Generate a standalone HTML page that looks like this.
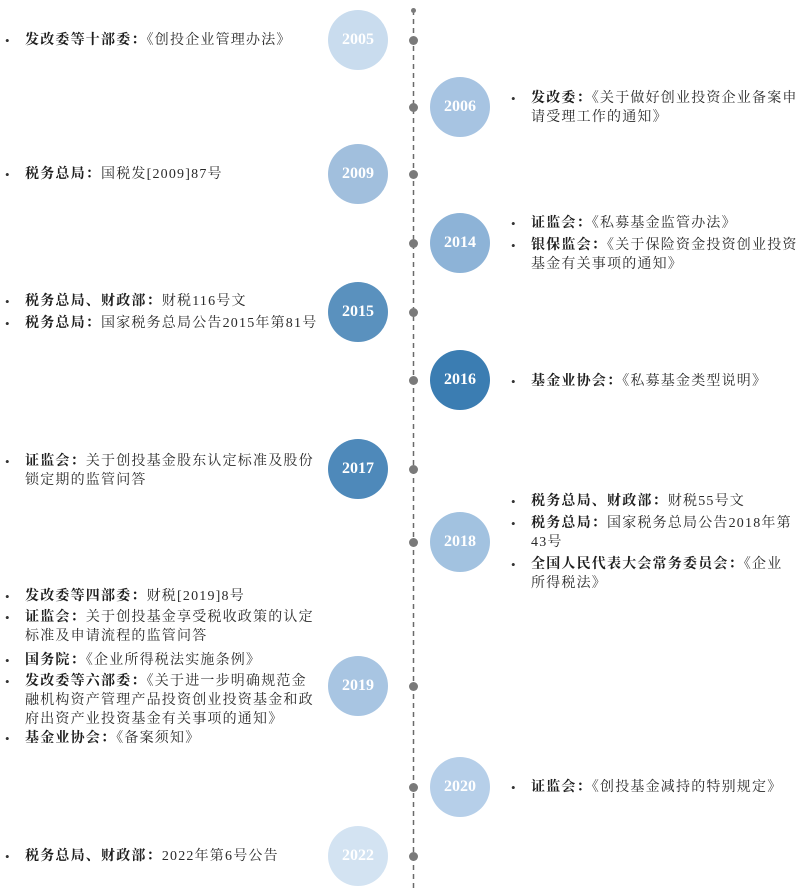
<!DOCTYPE html>
<html><head><meta charset="utf-8"><style>
body{margin:0;width:800px;height:890px;background:#fff;position:relative;overflow:hidden;font-family:"Liberation Serif","Noto Serif CJK SC",serif;color:#2a2a2a;}
.t{position:absolute;font-size:14px;line-height:19px;white-space:nowrap;letter-spacing:1.2px;}
.t b{font-weight:bold;color:#1e1e1e}
.bl{position:absolute;font-size:13px;line-height:19px;color:#333}
.c{position:absolute;width:60px;height:60px;border-radius:50%;color:#fff;font-weight:bold;font-size:16px;line-height:60px;text-align:center;}
.d{position:absolute;left:409px;width:9px;height:9px;border-radius:50%;background:#7a7a7a;}
</style></head><body>
<svg style="position:absolute;left:0;top:0" width="800" height="890"><line x1="413.5" y1="10" x2="413.5" y2="890" stroke="#6a6a6a" stroke-width="1.5" stroke-dasharray="5,4"/></svg>

<div class="d" style="top:8px;left:411px;width:5px;height:5px"></div>
<div class="d" style="top:36px"></div>
<div class="d" style="top:103px"></div>
<div class="d" style="top:170px"></div>
<div class="d" style="top:239px"></div>
<div class="d" style="top:308px"></div>
<div class="d" style="top:376px"></div>
<div class="d" style="top:465px"></div>
<div class="d" style="top:538px"></div>
<div class="d" style="top:682px"></div>
<div class="d" style="top:783px"></div>
<div class="d" style="top:852px"></div>

<div class="c" style="left:328px;top:10px;background:#c9dcee">2005</div>
<div class="c" style="left:430px;top:77px;background:#a7c4e2">2006</div>
<div class="c" style="left:328px;top:144px;background:#a1bfdd">2009</div>
<div class="c" style="left:430px;top:213px;background:#8db3d7">2014</div>
<div class="c" style="left:328px;top:282px;background:#5a91be">2015</div>
<div class="c" style="left:430px;top:350px;background:#3b7db2">2016</div>
<div class="c" style="left:328px;top:439px;background:#4e89ba">2017</div>
<div class="c" style="left:430px;top:512px;background:#a2c2e0">2018</div>
<div class="c" style="left:328px;top:656px;background:#a8c5e2">2019</div>
<div class="c" style="left:430px;top:757px;background:#b6cfe9">2020</div>
<div class="c" style="left:328px;top:826px;background:#d3e3f2">2022</div>

<!-- left -->
<div class="bl" style="left:5px;top:31px">•</div><div class="t" style="left:25px;top:31px"><b>发改委等十部委：</b>《创投企业管理办法》</div>
<div class="bl" style="left:5px;top:165px">•</div><div class="t" style="left:25px;top:165px"><b>税务总局：</b>国税发[2009]87号</div>
<div class="bl" style="left:5px;top:292px">•</div><div class="t" style="left:25px;top:292px"><b>税务总局、财政部：</b>财税116号文</div>
<div class="bl" style="left:5px;top:314px">•</div><div class="t" style="left:25px;top:314px"><b>税务总局：</b>国家税务总局公告2015年第81号</div>
<div class="bl" style="left:5px;top:452px">•</div><div class="t" style="left:25px;top:452px"><b>证监会：</b>关于创投基金股东认定标准及股份<br>锁定期的监管问答</div>
<div class="bl" style="left:5px;top:587px">•</div><div class="t" style="left:25px;top:587px"><b>发改委等四部委：</b>财税[2019]8号</div>
<div class="bl" style="left:5px;top:608px">•</div><div class="t" style="left:25px;top:608px"><b>证监会：</b>关于创投基金享受税收政策的认定<br>标准及申请流程的监管问答</div>
<div class="bl" style="left:5px;top:651px">•</div><div class="t" style="left:25px;top:651px"><b>国务院：</b>《企业所得税法实施条例》</div>
<div class="bl" style="left:5px;top:672px">•</div><div class="t" style="left:25px;top:672px"><b>发改委等六部委：</b>《关于进一步明确规范金<br>融机构资产管理产品投资创业投资基金和政<br>府出资产业投资基金有关事项的通知》</div>
<div class="bl" style="left:5px;top:729px">•</div><div class="t" style="left:25px;top:729px"><b>基金业协会：</b>《备案须知》</div>
<div class="bl" style="left:5px;top:847px">•</div><div class="t" style="left:25px;top:847px"><b>税务总局、财政部：</b>2022年第6号公告</div>

<!-- right -->
<div class="bl" style="left:511px;top:89px">•</div><div class="t" style="left:531px;top:89px"><b>发改委：</b>《关于做好创业投资企业备案申<br>请受理工作的通知》</div>
<div class="bl" style="left:511px;top:214px">•</div><div class="t" style="left:531px;top:214px"><b>证监会：</b>《私募基金监管办法》</div>
<div class="bl" style="left:511px;top:236px">•</div><div class="t" style="left:531px;top:236px"><b>银保监会：</b>《关于保险资金投资创业投资<br>基金有关事项的通知》</div>
<div class="bl" style="left:511px;top:372px">•</div><div class="t" style="left:531px;top:372px"><b>基金业协会：</b>《私募基金类型说明》</div>
<div class="bl" style="left:511px;top:492px">•</div><div class="t" style="left:531px;top:492px"><b>税务总局、财政部：</b>财税55号文</div>
<div class="bl" style="left:511px;top:514px">•</div><div class="t" style="left:531px;top:514px"><b>税务总局：</b>国家税务总局公告2018年第<br>43号</div>
<div class="bl" style="left:511px;top:555px">•</div><div class="t" style="left:531px;top:555px"><b>全国人民代表大会常务委员会：</b>《企业<br>所得税法》</div>
<div class="bl" style="left:511px;top:778px">•</div><div class="t" style="left:531px;top:778px"><b>证监会：</b>《创投基金减持的特别规定》</div>
</body></html>
